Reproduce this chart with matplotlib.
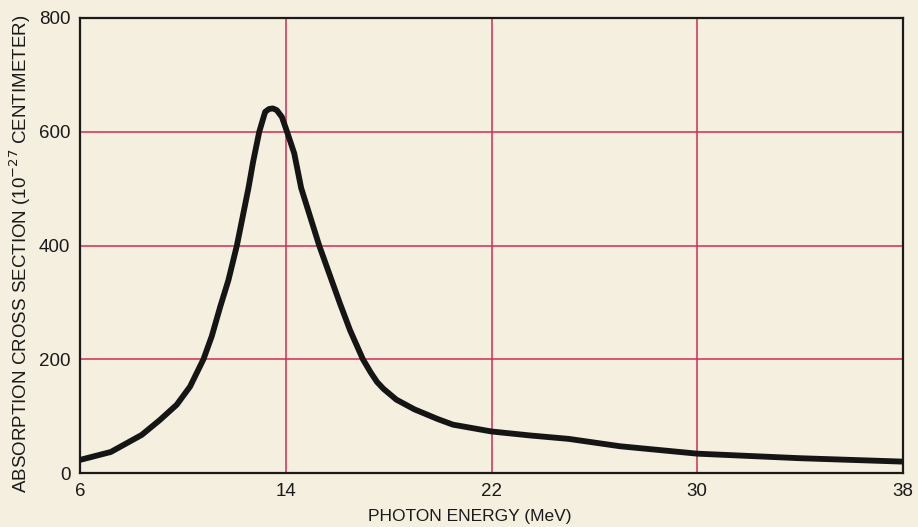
import matplotlib
matplotlib.use("Agg")
import matplotlib.pyplot as plt

# -------------------------
# Data
# -------------------------
energy = [6, 7.2, 8.4, 9.1, 9.76, 10.28, 10.8, 11.12, 11.45, 11.77, 12.1, 12.55, 12.73,
          12.97, 13.2, 13.35, 13.5, 13.65, 13.85, 14.05, 14.33, 14.6, 15.3, 16.1,
          16.5, 17.0, 17.3, 17.55, 17.8, 18.3, 19.0, 19.9, 20.5, 22, 23.5, 25, 27,
          30, 34, 38]
cross_section = [23, 37, 67, 93, 120, 152, 200, 240, 292, 339, 400, 501, 547,
                 600, 635, 640, 641, 638, 626, 600, 562, 501, 400, 299,
                 251, 200, 177, 160, 148, 129, 112, 95, 85, 73, 66, 60, 47,
                 34, 26, 20]

x_ticks = [6, 14, 22, 30, 38]
y_ticks = [0, 200, 400, 600, 800]

paper = "#f4efdf"
grid_red = "#d42a55"

plt.rcParams["font.family"] = ["Liberation Sans", "DejaVu Sans"]

fig = plt.figure(figsize=(9.18, 5.27), dpi=100, facecolor=paper)
ax = fig.add_axes([80 / 918, 54 / 527, 823 / 918, 455 / 527])
ax.set_facecolor(paper)

# grid lines (only the inner ones, the frame covers the edges)
for gx in x_ticks[1:-1]:
    ax.axvline(gx, color=grid_red, lw=1.1, zorder=1)
for gy in y_ticks[1:-1]:
    ax.axhline(gy, color=grid_red, lw=1.1, zorder=1)

ax.plot(energy, cross_section, color="#151515", lw=4.2,
        solid_joinstyle="round", solid_capstyle="butt", zorder=3)

ax.set_xlim(6, 38)
ax.set_ylim(0, 800)
ax.set_xticks(x_ticks)
ax.set_yticks(y_ticks)
ax.tick_params(length=0, labelsize=13.5, colors="#1a1a1a", pad=7)
for spine in ax.spines.values():
    spine.set_color("#1a1a1a")
    spine.set_linewidth(1.6)

fig.text(470 / 918, 1 - 517 / 527, "PHOTON ENERGY (MeV)", ha="center", va="center",
         fontsize=12.5, color="#1a1a1a")
fig.text(20 / 918, 1 - 254 / 527, "ABSORPTION CROSS SECTION (10$^{-27}$ CENTIMETER)",
         rotation=90, ha="center", va="center", fontsize=13.5, color="#1a1a1a")

fig.savefig("out.png", dpi=100, facecolor=paper)
